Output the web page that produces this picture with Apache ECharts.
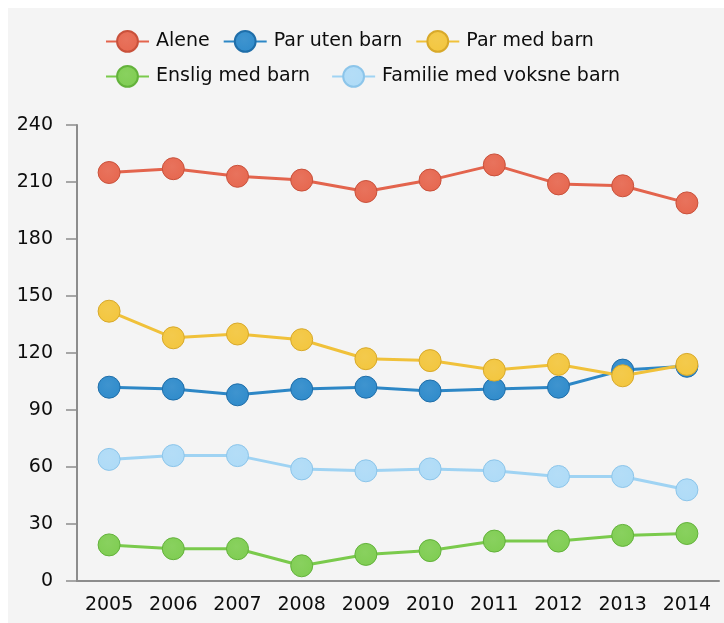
<!DOCTYPE html>
<html>
<head>
<meta charset="utf-8">
<title>Husholdninger 2005–2014</title>
<script src="https://cdn.jsdelivr.net/npm/echarts@6/dist/echarts.min.js"></script>
<style>
  html, body { margin: 0; padding: 0; background: #ffffff; }
  #chart { width: 724px; height: 623px; }
</style>
</head>
<body>
<div id="chart"></div>
<script>
// Years on the x axis
const years = ['2005', '2006', '2007', '2008', '2009', '2010', '2011', '2012', '2013', '2014'];

// Household types, one array per line
const alene = [215, 217, 213, 211, 205, 211, 219, 209, 208, 199];
const parUtenBarn = [102, 101, 98, 101, 102, 100, 101, 102, 111, 113];
const parMedBarn = [142, 128, 130, 127, 117, 116, 111, 114, 108, 114];
const ensligMedBarn = [19, 17, 17, 8, 14, 16, 21, 21, 24, 25];
const familieVoksneBarn = [64, 66, 66, 59, 58, 59, 58, 55, 55, 48];

// Value axis range and step
const yMin = 0;
const yMax = 240;
const yStep = 30;

const FONT = '"DejaVu Sans", Verdana, sans-serif';
const TEXT = '#0d0d0d';

// name, values, fill, edge (marker outline), line colour
const seriesDefs = [
  ['Alene', alene, '#e6674f', '#c9513b', '#e3644d'],
  ['Par uten barn', parUtenBarn, '#2f8bcb', '#1f6ea9', '#2d87c6'],
  ['Par med barn', parMedBarn, '#f3c63e', '#d8a92a', '#f0c13a'],
  ['Enslig med barn', ensligMedBarn, '#7fcd52', '#63b23b', '#7aca4c'],
  ['Familie med voksne barn', familieVoksneBarn, '#aedbf7', '#8cc5ea', '#9fd3f3']
];

function markerFill(fill) {
  return {
    type: 'radial', x: 0.45, y: 0.4, r: 0.65,
    colorStops: [
      { offset: 0, color: echarts.color.lift(fill, 0.08) },
      { offset: 1, color: fill }
    ]
  };
}

const series = seriesDefs.map(([name, values, fill, edge, line]) => ({
  name: name,
  type: 'line',
  data: values,
  symbol: 'circle',
  symbolSize: 22,
  showAllSymbol: true,
  lineStyle: { color: line, width: 3 },
  itemStyle: { color: markerFill(fill), borderColor: edge, borderWidth: 1 },
  emphasis: { disabled: true },
  animation: false
}));

const legendBase = {
  orient: 'horizontal',
  left: 105,
  itemWidth: 43,
  itemHeight: 26,
  padding: 0,
  selectedMode: false,
  lineStyle: { width: 2 },
  textStyle: { fontFamily: FONT, fontSize: 19, color: TEXT, padding: [0, 0, 0, 2] }
};

const chart = echarts.init(document.getElementById('chart'), null, { renderer: 'canvas' });
chart.setOption({
  backgroundColor: '#ffffff',
  animation: false,
  graphic: [{
    type: 'rect',
    left: 8, top: 8, z: -10, silent: true,
    shape: { width: 716, height: 615 },
    style: { fill: '#f4f4f4' }
  }],
  legend: [
    Object.assign({}, legendBase, {
      top: 30, itemGap: 13,
      data: ['Alene', 'Par uten barn', 'Par med barn']
    }),
    Object.assign({}, legendBase, {
      top: 65, itemGap: 21,
      data: ['Enslig med barn', 'Familie med voksne barn']
    })
  ],
  grid: { left: 77, right: 5, top: 125, bottom: 42, containLabel: false },
  xAxis: {
    type: 'category',
    data: years,
    boundaryGap: true,
    axisLine: { lineStyle: { color: '#8c8c8c', width: 2 } },
    axisTick: { alignWithLabel: true, length: 4, lineStyle: { color: '#8c8c8c', width: 1.5 } },
    axisLabel: { fontFamily: FONT, fontSize: 19, color: TEXT, margin: 15 },
    splitLine: { show: false }
  },
  yAxis: {
    type: 'value',
    min: yMin, max: yMax, interval: yStep,
    axisLine: { show: true, lineStyle: { color: '#8c8c8c', width: 2 } },
    axisTick: { show: true, length: 11, lineStyle: { color: '#8c8c8c', width: 1.5 } },
    axisLabel: { fontFamily: FONT, fontSize: 19, color: TEXT, margin: 24 },
    splitLine: { show: false }
  },
  series: series
});
</script>
</body>
</html>
